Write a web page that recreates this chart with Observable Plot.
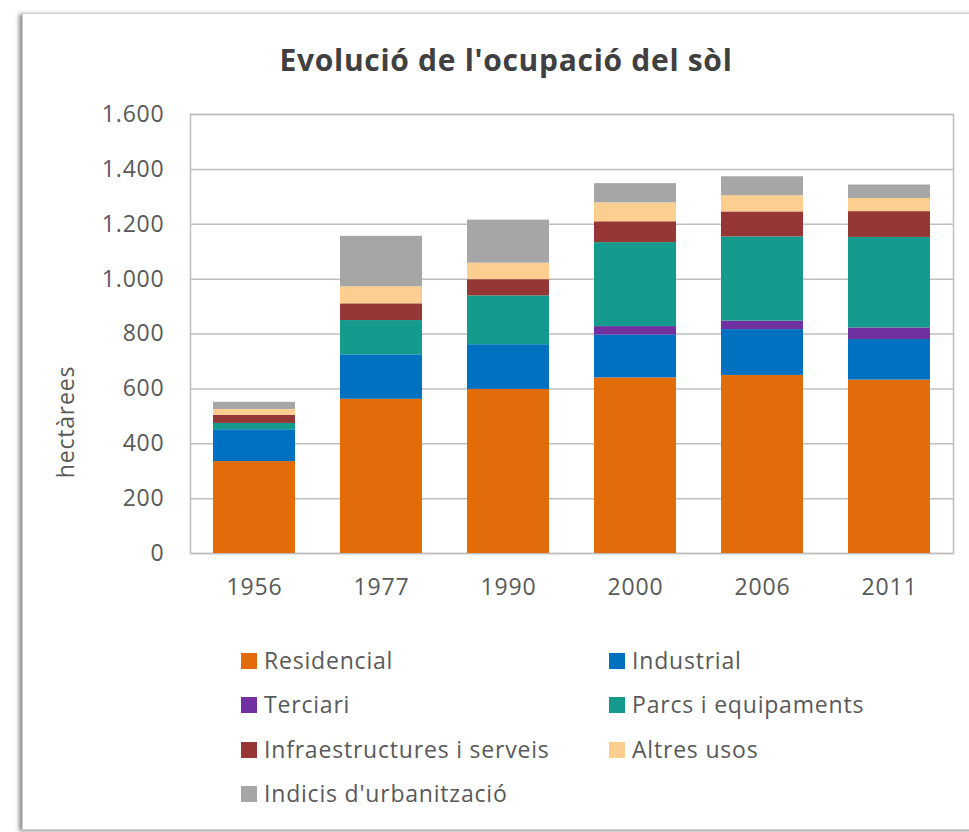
<!DOCTYPE html>
<html>
<head>
<meta charset="utf-8">
<script src="https://cdn.jsdelivr.net/npm/d3@7"></script>
<script src="https://cdn.jsdelivr.net/npm/@observablehq/plot@0.6"></script>
<style>
  body { margin: 0; background: #fff; font-family: "Open Sans", Lato, sans-serif; }
  #wrap { position: relative; width: 969px; height: 832px; overflow: hidden; }
  #frame { position: absolute; left: 22px; top: 13px; width: 980px; height: 815px;
           border: 1px solid #d0d0d0; box-shadow: -3px 1px 4px rgba(0,0,0,0.45); background: #fff; }
  #title { position: absolute; left: 0; width: 1012px; top: 39px; text-align: center;
           font: bold 30px "Open Sans", sans-serif; letter-spacing: 0.7px; color: #404040; line-height: 42px; }
  #chart { position: absolute; left: 0; top: 0; }
  #chart svg text { letter-spacing: 0.8px; }
  #ylabel { position: absolute; left: 65px; top: 422px; transform: translate(-50%,-50%) rotate(-90deg);
            font: 23px "Open Sans", sans-serif; letter-spacing: 0.8px; color: #595959; white-space: nowrap; }
  .leg { position: absolute; font: 23px "Open Sans", sans-serif; letter-spacing: 0.8px; color: #595959; white-space: nowrap; line-height: 28px; }
  .sw { position: absolute; width: 16px; height: 16px; }
</style>
</head>
<body>
<div id="wrap">
  <div id="frame"></div>
  <div id="chart"></div>
  <div id="title">Evolució de l'ocupació del sòl</div>
  <div id="ylabel">hectàrees</div>
  <div id="legend"></div>
</div>
<script>
const years = ["1956", "1977", "1990", "2000", "2006", "2011"];
const series = ["Residencial", "Industrial", "Terciari", "Parcs i equipaments", "Infraestructures i serveis", "Altres usos", "Indicis d'urbanització"];
const colors = ["#E36C0A", "#0070C0", "#7030A0", "#149B8D", "#953735", "#FCCE8F", "#A6A6A6"];
const residencial = [335, 562, 598, 640, 649, 632];
const industrial  = [116, 162, 163, 156, 167, 148];
const terciari    = [0, 0, 0, 31, 31, 42];
const parcs       = [23, 125, 178, 306, 307, 330];
const infra       = [30, 61, 59, 76, 91, 94];
const altres      = [21, 62, 60, 69, 59, 48];
const indicis     = [26, 184, 157, 70, 69, 49];
const yTicks = [0, 200, 400, 600, 800, 1000, 1200, 1400, 1600];

const valuesBySeries = [residencial, industrial, terciari, parcs, infra, altres, indicis];
const data = [];
series.forEach((s, i) => years.forEach((y, j) => data.push({year: y, serie: s, value: valuesBySeries[i][j]})));

const caLocale = d3.formatLocale({decimal: ",", thousands: ".", grouping: [3], currency: ["", " €"]});
const fmt = caLocale.format(",");

const plot = Plot.plot({
  width: 969,
  height: 620,
  marginLeft: 190,
  marginRight: 16,
  marginTop: 114,
  marginBottom: 67,
  style: {fontFamily: "'Open Sans', sans-serif", fontSize: "23px", color: "#595959", background: "transparent"},
  x: {domain: years, paddingInner: 0.355, paddingOuter: 0.1775, label: null},
  y: {domain: [0, 1600], ticks: yTicks, label: null},
  color: {domain: series, range: colors},
  marks: [
    Plot.gridY(yTicks, {stroke: "#bfbfbf", strokeOpacity: 1, strokeWidth: 1.5}),
    Plot.frame({stroke: "#bfbfbf", strokeWidth: 1.5}),
    Plot.barY(data, Plot.stackY({x: "year", y: "value", fill: "serie", order: series})),
    Plot.axisY(yTicks, {tickSize: 0, tickPadding: 26, tickFormat: fmt, fill: "#595959", label: null}),
    Plot.axisX({tickSize: 0, tickPadding: 25, fill: "#595959", label: null})
  ]
});
document.getElementById("chart").appendChild(plot);

const legend = document.getElementById("legend");
const colX = [241, 609];
const rowY = [661, 705, 749.5, 794];
series.forEach((s, i) => {
  const cx = colX[i % 2], cy = rowY[Math.floor(i / 2)];
  const sw = document.createElement("div");
  sw.className = "sw";
  sw.style.left = cx + "px";
  sw.style.top = (cy - 8) + "px";
  sw.style.background = colors[i];
  legend.appendChild(sw);
  const t = document.createElement("div");
  t.className = "leg";
  t.style.left = (cx + 23) + "px";
  t.style.top = (cy - 15) + "px";
  t.textContent = s;
  legend.appendChild(t);
});
</script>
</body>
</html>
